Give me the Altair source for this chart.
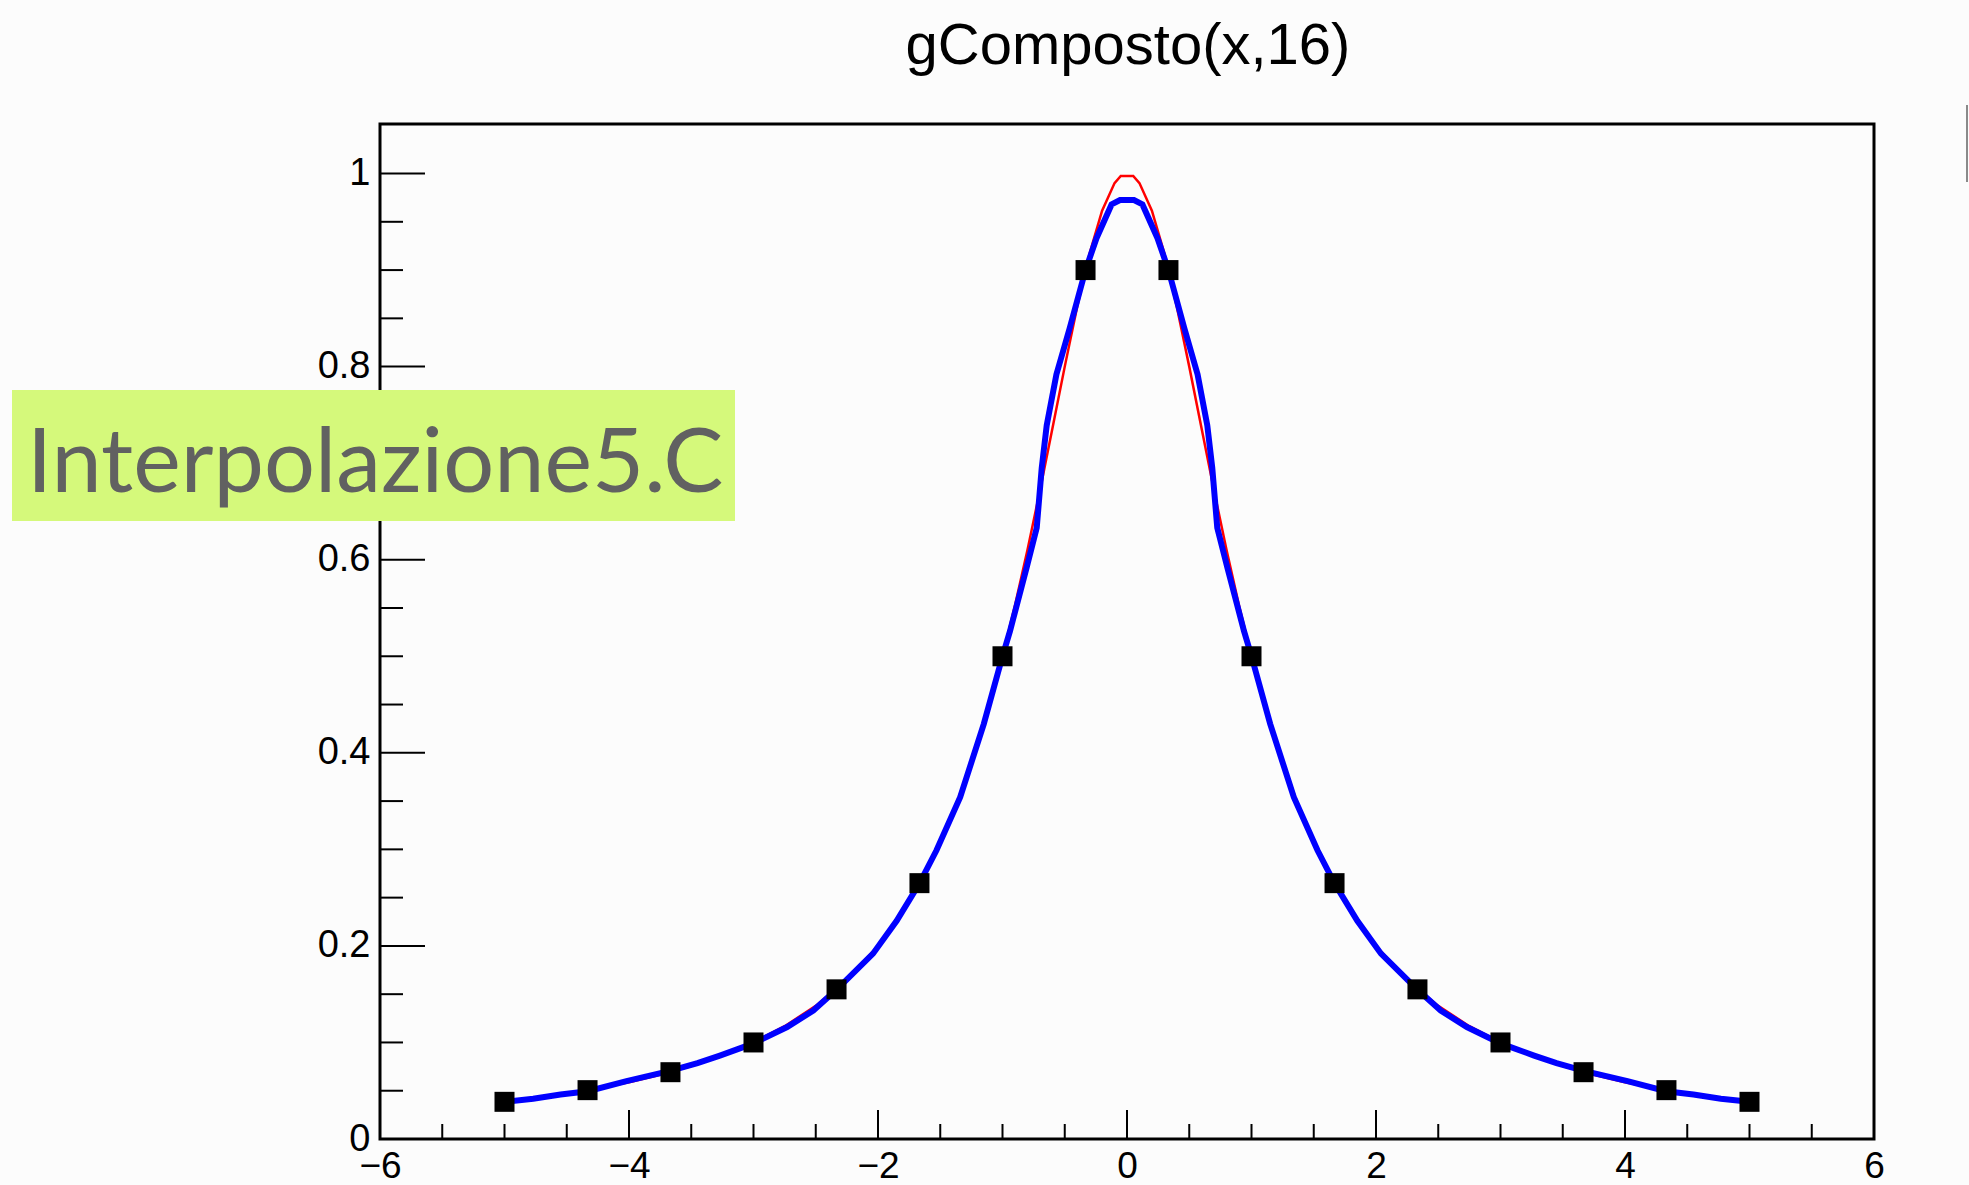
import altair as alt
import pandas as pd

# Sampled points (16 nodes on [-5, 5])
pts_x = [-5.0, -4.333, -3.667, -3.0, -2.333, -1.667, -1.0, -0.333,
         0.333, 1.0, 1.667, 2.333, 3.0, 3.667, 4.333, 5.0]
pts_y = [0.0385, 0.0506, 0.0692, 0.1, 0.155, 0.265, 0.5, 0.9,
         0.9, 0.5, 0.265, 0.155, 0.1, 0.0692, 0.0506, 0.0385]

# Reference function (red)
red_x = [-5.0, -4.75, -4.5, -4.25, -4.0, -3.75, -3.5, -3.25, -3.0, -2.75,
         -2.5, -2.25, -2.0, -1.75, -1.5, -1.4, -1.3, -1.2, -1.1, -1.0,
         -0.9, -0.8, -0.7, -0.6, -0.5, -0.4, -0.3, -0.2, -0.1, -0.05,
         0.05, 0.1, 0.2, 0.3, 0.4, 0.5, 0.6, 0.7, 0.8, 0.9,
         1.0, 1.1, 1.2, 1.3, 1.4, 1.5, 1.75, 2.0, 2.25, 2.5,
         2.75, 3.0, 3.25, 3.5, 3.75, 4.0, 4.25, 4.5, 4.75, 5.0]
red_y = [0.0385, 0.0425, 0.0471, 0.0525, 0.0588, 0.0664, 0.0755, 0.0865, 0.1, 0.1168,
         0.1379, 0.1649, 0.2, 0.2462, 0.3077, 0.3378, 0.3717, 0.4098, 0.4525, 0.5,
         0.5525, 0.6098, 0.6711, 0.7353, 0.8, 0.8621, 0.9174, 0.9615, 0.9901, 0.9975,
         0.9975, 0.9901, 0.9615, 0.9174, 0.8621, 0.8, 0.7353, 0.6711, 0.6098, 0.5525,
         0.5, 0.4525, 0.4098, 0.3717, 0.3378, 0.3077, 0.2462, 0.2, 0.1649, 0.1379,
         0.1168, 0.1, 0.0865, 0.0755, 0.0664, 0.0588, 0.0525, 0.0471, 0.0425, 0.0385]

# Composite interpolation (blue)
blue_x = [-5.0, -4.77, -4.55, -4.33, -4.02, -3.67, -3.45, -3.27, -3.0, -2.73,
          -2.52, -2.33, -2.04, -1.85, -1.67, -1.53, -1.34, -1.15, -1.0, -0.94,
          -0.806, -0.725, -0.685, -0.645, -0.567, -0.46, -0.333, -0.245, -0.124, -0.056,
          0.056, 0.124, 0.245, 0.333, 0.46, 0.567, 0.645, 0.685, 0.725, 0.806,
          0.94, 1.0, 1.15, 1.34, 1.53, 1.67, 1.85, 2.04, 2.33, 2.52,
          2.73, 3.0, 3.27, 3.45, 3.67, 4.02, 4.33, 4.55, 4.77, 5.0]
blue_y = [0.0385, 0.0416, 0.046, 0.0495, 0.06, 0.0705, 0.0785, 0.0864, 0.099, 0.116,
          0.133, 0.155, 0.192, 0.226, 0.264, 0.299, 0.354, 0.43, 0.5, 0.526,
          0.592, 0.633, 0.695, 0.739, 0.792, 0.84, 0.9, 0.933, 0.968, 0.9725,
          0.9725, 0.968, 0.933, 0.9, 0.84, 0.792, 0.739, 0.695, 0.633, 0.592,
          0.526, 0.5, 0.43, 0.354, 0.299, 0.264, 0.226, 0.192, 0.155, 0.133,
          0.116, 0.099, 0.0864, 0.0785, 0.0705, 0.06, 0.0495, 0.046, 0.0416, 0.0385]

# Axis ticks
x_major = [-6, -4, -2, 0, 2, 4, 6]
x_minor = [-5.5, -5, -4.5, -3.5, -3, -2.5, -1.5, -1, -0.5,
           0.5, 1, 1.5, 2.5, 3, 3.5, 4.5, 5, 5.5]
y_major = [0, 0.2, 0.4, 0.6, 0.8, 1.0]
y_minor = [0.05, 0.1, 0.15, 0.25, 0.3, 0.35, 0.45, 0.5, 0.55,
           0.65, 0.7, 0.75, 0.85, 0.9, 0.95]

W, H = 1494, 1015
PAD_L, PAD_T = 380, 124
FONT = "Liberation Sans"

xs = alt.Scale(domain=[-6, 6], nice=False, zero=False)
ys = alt.Scale(domain=[0, 1.0513], nice=False, zero=False)

x_axis = alt.Axis(values=x_major, format="~g", grid=False, domain=False, ticks=False,
                  tickSize=0, labelPadding=9, labelFontSize=37, labelFont=FONT,
                  labelColor="black", labelBaseline="top", labelFlush=False,
                  labelOverlap=False, labelBound=False, title=None)
y_axis = alt.Axis(values=y_major, format="~g", grid=False, domain=False, ticks=False,
                  tickSize=0, labelPadding=10, labelFontSize=38, labelFont=FONT,
                  labelColor="black", labelFlush=False, labelOverlap=False,
                  labelBound=False, title=None)

X = lambda f: alt.X(f, scale=xs, axis=x_axis)
Y = lambda f: alt.Y(f, scale=ys, axis=y_axis)

pts = pd.DataFrame({"x": pts_x, "y": pts_y})
red = pd.DataFrame({"x": red_x, "y": red_y, "o": range(len(red_x))})
blue = pd.DataFrame({"x": blue_x, "y": blue_y, "o": range(len(blue_x))})

red_line = alt.Chart(red).mark_line(color="#ff0000", strokeWidth=2.5).encode(
    x=X("x:Q"), y=Y("y:Q"), order="o:Q")
blue_line = alt.Chart(blue).mark_line(color="#0000ff", strokeWidth=6).encode(
    x=X("x:Q"), y=Y("y:Q"), order="o:Q")
markers = alt.Chart(pts).mark_square(color="black", opacity=1, size=400).encode(
    x=X("x:Q"), y=Y("y:Q"))


def tick_layer(values, horizontal, length):
    df = pd.DataFrame({"v": values})
    base = alt.Chart(df).mark_rule(color="black", strokeWidth=2)
    if horizontal:
        return base.encode(y=Y("v:Q"), x=alt.value(0), x2=alt.value(length))
    return base.encode(x=X("v:Q"), y=alt.value(H), y2=alt.value(H - length))


ticks = [tick_layer(y_major, True, 45), tick_layer(y_minor, True, 23),
         tick_layer(x_major, False, 29), tick_layer(x_minor, False, 15)]

title = alt.Chart(pd.DataFrame({"t": ["gComposto(x,16)"]})).mark_text(
    font=FONT, fontSize=58, color="black", align="center", baseline="alphabetic"
).encode(text="t:N", x=alt.value(1128 - PAD_L), y=alt.value(64 - PAD_T))

label_box = alt.Chart(pd.DataFrame({"a": [0]})).mark_rect(color="#d5f97b").encode(
    x=alt.value(12 - PAD_L), x2=alt.value(735 - PAD_L),
    y=alt.value(390 - PAD_T), y2=alt.value(521 - PAD_T),
)
label_text = alt.Chart(pd.DataFrame({"t": ["Interpolazione5.C"]})).mark_text(
    font="Lato", fontSize=90, color="#616161", align="left", baseline="alphabetic"
).encode(text="t:N", x=alt.value(27 - PAD_L), y=alt.value(492 - PAD_T))

edge = alt.Chart(pd.DataFrame({"a": [0]})).mark_rule(color="#8a8a8a", strokeWidth=2).encode(
    x=alt.value(1967 - PAD_L), y=alt.value(105 - PAD_T), y2=alt.value(182 - PAD_T)
)

chart = alt.layer(
    red_line, *ticks, blue_line, markers, title, label_box, label_text, edge
).properties(
    width=W, height=H,
    autosize=alt.AutoSizeParams(type="none"),
    padding={"left": PAD_L, "top": PAD_T, "right": 1969 - PAD_L - W, "bottom": 1185 - PAD_T - H},
    background="#fcfcfc",
).configure_view(stroke="black", strokeWidth=3, fill="#fcfcfc")

chart.save("out.html", embed_options={"renderer": "svg", "actions": False})
